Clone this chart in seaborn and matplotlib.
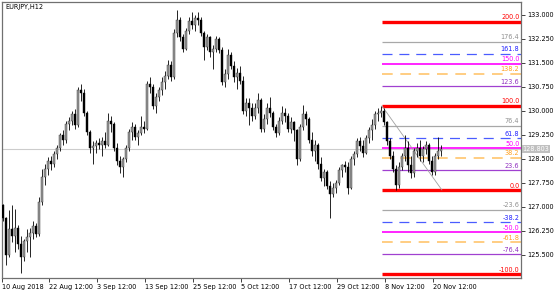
import matplotlib
matplotlib.use("Agg")
import matplotlib.pyplot as plt
import matplotlib.transforms as mtransforms
import seaborn as sns
import numpy as np
import pandas as pd

# ---------------- data ----------------
opens = [127.05,126.65,125.50,126.30,126.10,126.35,125.85,125.45,125.95,126.05,126.20,126.40,126.15,127.15,127.95,128.20,128.45,128.35,128.65,128.85,
         129.25,129.10,129.60,129.70,129.90,129.55,130.65,130.55,129.95,129.35,128.85,128.90,129.00,128.95,129.05,128.95,129.70,129.60,128.85,128.45,
         128.25,128.50,128.85,129.35,129.50,129.20,129.30,129.50,129.45,130.85,130.75,130.15,130.45,130.65,130.90,131.10,131.45,131.05,132.45,132.85,
         132.30,131.95,132.50,132.80,132.70,132.90,132.85,132.45,132.00,132.30,131.85,131.95,132.25,131.90,130.90,131.15,131.75,131.40,131.05,131.20,
         130.95,130.00,130.25,130.10,129.85,130.10,130.35,129.45,129.75,130.10,129.95,129.50,129.30,129.70,129.95,129.85,129.45,129.65,129.40,128.50,
         129.50,129.90,129.75,129.10,128.75,128.95,128.35,127.90,128.10,127.65,127.40,127.60,127.75,128.15,128.30,128.25,127.60,128.50,128.65,129.05,
         128.90,128.70,129.15,129.40,129.55,129.90,129.95,130.00,129.65,129.05,128.60,128.20,127.70,128.25,128.60,128.85,128.30,128.05,128.75,128.85,
         128.60,128.80,128.95,128.45,128.10,128.60,128.75]
highs = [127.10,126.70,126.90,127.05,126.95,126.45,126.10,126.00,126.30,126.35,126.55,126.50,127.30,128.20,128.35,128.55,128.60,128.75,128.95,129.30,
         129.40,129.70,129.80,130.00,130.05,130.75,130.85,130.70,130.00,129.40,129.05,129.10,129.15,129.20,129.35,129.95,129.85,129.65,129.00,128.60,
         128.55,128.95,129.45,129.65,129.60,129.40,129.85,129.70,130.95,131.05,130.85,130.55,130.75,131.05,131.25,131.60,131.55,132.55,133.15,132.95,
         132.40,132.60,132.95,133.10,133.00,133.10,132.95,132.50,132.40,132.35,132.05,132.35,132.30,132.00,131.30,131.95,131.85,131.55,131.35,131.40,
         131.10,130.40,130.40,130.25,130.25,130.55,130.40,129.90,130.25,130.45,130.00,129.60,129.80,130.15,130.10,129.95,129.80,129.70,129.45,129.60,
         130.20,130.00,129.80,129.35,129.10,129.00,128.55,128.20,128.15,127.80,127.75,127.85,128.25,128.35,128.45,128.40,128.60,128.75,129.15,129.20,
         129.10,129.25,129.50,129.75,130.00,130.10,130.16,130.10,129.70,129.15,128.75,128.30,128.40,128.70,129.25,129.05,128.60,128.85,129.00,129.10,
         128.90,129.05,129.00,128.60,128.70,129.20,128.95]
lows = [126.55,125.20,125.45,125.90,125.60,125.70,124.95,125.30,125.60,125.45,126.00,126.05,126.10,127.05,127.70,128.00,128.15,128.25,128.50,128.75,
        128.95,129.00,129.40,129.55,129.45,129.50,130.30,129.85,129.25,128.70,128.35,128.70,128.80,128.60,128.85,128.90,129.35,128.75,128.30,128.05,
        127.95,128.40,128.75,129.10,129.10,128.95,129.25,129.30,129.40,130.55,130.05,129.95,130.30,130.50,130.70,131.00,130.95,131.00,132.30,132.20,
        131.85,131.90,132.40,132.55,132.50,132.70,132.35,131.60,131.90,131.70,131.30,131.85,131.80,130.80,130.75,131.00,131.30,130.90,130.70,130.85,
        129.90,129.85,129.55,129.70,129.75,129.95,129.35,129.35,129.60,129.80,129.40,129.20,129.25,129.60,129.65,129.35,129.30,129.05,128.30,128.45,
        129.40,129.55,129.00,128.60,128.45,128.20,127.80,127.65,127.55,126.65,127.30,127.45,127.70,127.95,128.10,127.40,127.55,128.30,128.55,128.75,
        128.55,128.65,129.00,129.10,129.45,129.70,129.80,129.55,128.95,128.50,128.10,127.53,127.60,128.15,128.45,128.10,127.90,127.95,128.55,128.45,
        128.40,128.65,128.35,128.00,128.00,128.50,128.60]
closes = [126.65,125.50,126.30,126.10,126.35,125.85,125.45,125.95,126.05,126.20,126.40,126.15,127.15,127.95,128.20,128.45,128.35,128.65,128.85,129.25,
          129.10,129.60,129.70,129.90,129.55,130.65,130.55,129.95,129.35,128.85,128.90,129.00,128.95,129.05,128.95,129.70,129.60,128.85,128.45,128.25,
          128.50,128.85,129.35,129.50,129.20,129.30,129.50,129.45,130.85,130.75,130.15,130.45,130.65,130.90,131.10,131.45,131.05,132.45,132.85,132.30,
          131.95,132.50,132.80,132.70,132.90,132.85,132.45,132.00,132.30,131.85,131.95,132.25,131.90,130.90,131.15,131.75,131.40,131.05,131.20,130.95,
          130.00,130.25,130.10,129.85,130.10,130.35,129.45,129.75,130.10,129.95,129.50,129.30,129.70,129.95,129.85,129.45,129.65,129.40,128.50,129.50,
          129.90,129.75,129.10,128.75,128.95,128.35,127.90,128.10,127.65,127.40,127.60,127.75,128.15,128.30,128.25,127.60,128.50,128.65,129.05,128.90,
          128.70,129.15,129.40,129.55,129.90,129.95,130.00,129.65,129.05,128.60,128.20,127.70,128.25,128.60,128.85,128.30,128.05,128.75,128.85,128.60,
          128.80,128.95,128.45,128.10,128.60,128.75,128.803]

x_tick_bars = [-0.33, 15.33, 31.33, 47.33, 63.33, 79.33, 95.33, 111.33, 127.33, 143.33]
x_tick_labels = ["10 Aug 2018", "22 Aug 12:00", "3 Sep 12:00", "13 Sep 12:00", "25 Sep 12:00",
                 "5 Oct 12:00", "17 Oct 12:00", "29 Oct 12:00", "8 Nov 12:00", "20 Nov 12:00"]
y_ticks = [125.5, 126.25, 127.0, 127.75, 128.5, 129.25, 130.0, 130.75, 131.5, 132.25, 133.0]

fib_high = 130.16
fib_low = 127.53
fib_start_bar = 126.3
fib_end_bar = 146.3
fib_levels = [200.0, 176.4, 161.8, 150.0, 138.2, 123.6, 100.0, 76.4, 61.8, 50.0, 38.2, 23.6,
              0.0, -23.6, -38.2, -50.0, -61.8, -76.4, -100.0]
fib_labels = ["200.0", "176.4", "161.8", "150.0", "138.2", "123.6", "100.0", "76.4", "61.8", "50.0",
              "38.2", "23.6", "0.0", "-23.6", "-38.2", "-50.0", "-61.8", "-76.4", "-100.0"]
fib_kinds = ["red", "gray", "blue", "mag", "orange", "purple", "red", "gray", "blue", "mag", "orange", "purple",
             "red", "gray", "blue", "mag", "orange", "purple", "red"]
current_price = 128.803
symbol_title = "EURJPY,H12"

# ---------------- style ----------------
sns.set_theme(style="white")
plt.rcParams['font.family'] = ['DejaVu Sans']
FS = 4.7

W, H = 560, 294
fig = plt.figure(figsize=(W / 100, H / 100), dpi=100)
ax_left, ax_right, ax_top, ax_bottom = 2, 521, 2, 278
ax = fig.add_axes([ax_left / W, 1 - ax_bottom / H, (ax_right - ax_left) / W, (ax_bottom - ax_top) / H])

n = len(closes)
df = pd.DataFrame({"bar": np.arange(n), "open": opens, "high": highs, "low": lows, "close": closes})
xmin = -1 / 3
xmax = xmin + (ax_right - ax_left) / 3
ax.set_xlim(xmin, xmax)
ax.set_ylim(124.78, 133.406)

# current price line
ax.axhline(current_price, color="#cccccc", lw=0.8, zorder=1)

# fibonacci levels (behind candles)
styles = {
    "red": dict(color="#ff0000", lw=2.4, ls="-"),
    "gray": dict(color="#a8a8a8", lw=0.9, ls="-"),
    "blue": dict(color="#4a5cff", lw=0.9, ls=(0, (8, 5.5))),
    "mag": dict(color="#ff00ff", lw=1.2, ls="-"),
    "orange": dict(color="#ffc060", lw=1.1, ls=(0, (7, 5))),
    "purple": dict(color="#a040d0", lw=0.9, ls="-"),
}
label_colors = {"red": "#ff0000", "gray": "#909090", "blue": "#2020ff", "mag": "#ff00ff",
                "orange": "#ffa020", "purple": "#9030c0"}

rng = fib_high - fib_low
trans_lbl = mtransforms.offset_copy(ax.transData, fig=fig, x=-1.2, y=1.0, units="points")
for lv, lab, k in zip(fib_levels, fib_labels, fib_kinds):
    price = fib_low + rng * lv / 100.0
    st = styles[k]
    ax.hlines(price, fib_start_bar, xmax, colors=st["color"], lw=st["lw"], linestyles=[st["ls"]], zorder=2)
    ax.text(xmax, price, lab, color=label_colors[k], fontsize=FS, ha="right", va="bottom",
            transform=trans_lbl, zorder=6)

# diagonal trend line of fibo
diag = pd.DataFrame({"bar": [fib_start_bar, fib_end_bar], "price": [fib_high, fib_low]})
sns.lineplot(data=diag, x="bar", y="price", ax=ax, color="#a0a0a0", lw=0.6, zorder=2)

# wicks
ax.vlines(df["bar"], df["low"], df["high"], color="black", lw=0.6, zorder=3)
# bodies
up = df["close"] >= df["open"]
bw = 0.62
ax.bar(df.loc[up, "bar"], (df.loc[up, "close"] - df.loc[up, "open"]).clip(lower=0.02),
       bottom=df.loc[up, "open"], width=bw, color="#9a9a9a", edgecolor="#303030", linewidth=0.3, zorder=4)
ax.bar(df.loc[~up, "bar"], (df.loc[~up, "open"] - df.loc[~up, "close"]).clip(lower=0.02),
       bottom=df.loc[~up, "close"], width=bw, color="black", edgecolor="black", linewidth=0.3, zorder=4)

# axes styling
for s in ax.spines.values():
    s.set_color("#707070")
    s.set_linewidth(0.9)
ax.yaxis.tick_right()
ax.set_yticks(y_ticks)
ax.set_yticklabels([f"{v:.3f}" for v in y_ticks])
ax.set_xticks(x_tick_bars)
ax.set_xticklabels(x_tick_labels, ha="left")
ax.tick_params(axis="both", which="both", direction="out", length=3, width=0.7, color="#404040",
               labelsize=FS, labelcolor="black", pad=1.5)
ax.tick_params(axis="y", right=True, left=False)
ax.tick_params(axis="x", bottom=True)
ax.set_xlabel("")
ax.set_ylabel("")
ax.grid(False)

# symbol title
ax.text(0.006, 0.992, symbol_title, transform=ax.transAxes, fontsize=FS, ha="left", va="top", color="black")

# current price box on axis
tb = mtransforms.blended_transform_factory(ax.transAxes, ax.transData)
ax.text(1.003, current_price, f"{current_price:.3f}", transform=tb, fontsize=FS, ha="left", va="center",
        color="white", bbox=dict(boxstyle="square,pad=0.15", facecolor="#c0c0c0", edgecolor="none"),
        zorder=10, clip_on=False)

fig.savefig("out.png", dpi=100)
